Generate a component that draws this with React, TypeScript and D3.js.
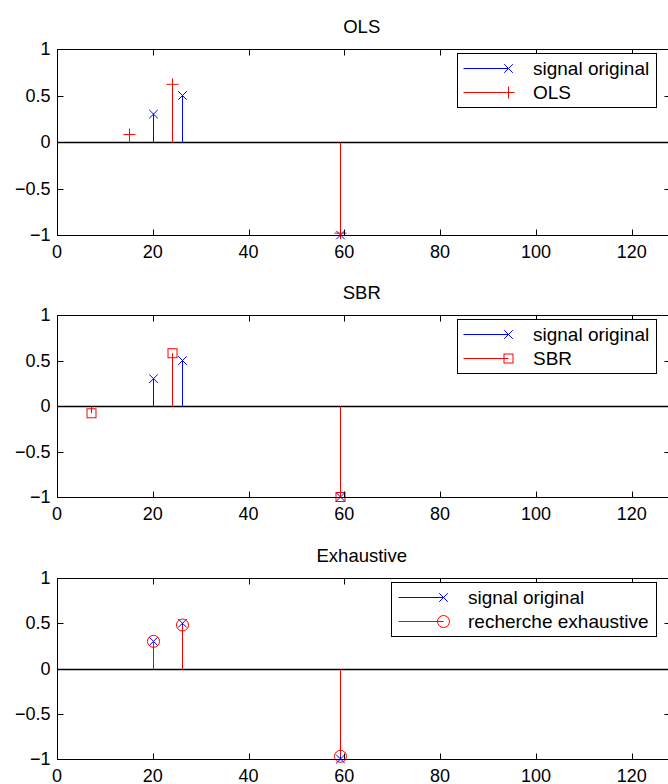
import React from 'react';
import * as d3 from 'd3';

// chart data
const xTicks = [0, 20, 40, 60, 80, 100, 120];
const yTicks = [-1, -0.5, 0, 0.5, 1];

const originalX = [20, 26, 59];
const originalY = [0.3, 0.5, -1];

const olsX = [15, 24, 59];
const olsY = [0.08, 0.62, -0.98];

const sbrX = [7, 24, 59];
const sbrY = [-0.08, 0.58, -1];

const exhX = [20, 26, 59];
const exhY = [0.3, 0.48, -0.97];

const panelTitles = ['OLS', 'SBR', 'Exhaustive'];
const legendLabels = [
  ['signal original', 'OLS'],
  ['signal original', 'SBR'],
  ['signal original', 'recherche exhaustive']
];

const W = 668;
const H = 784;
const FONT = '"Liberation Sans", Arial, Helvetica, sans-serif';
const FS = 18;
const BLUE = '#0000ff';
const RED = '#ff0000';

const panels = [
  { top: 49, height: 186, xs: olsX, ys: olsY, marker: 'plus', legendLeft: 457 },
  { top: 315, height: 182, xs: sbrX, ys: sbrY, marker: 'square', legendLeft: 457 },
  { top: 578, height: 181, xs: exhX, ys: exhY, marker: 'circle', legendLeft: 391 }
];

// snap to pixel centre so 1px lines stay crisp
const px = (v) => Math.round(v) + 0.5;

function Marker({ type, x, y, color }) {
  if (type === 'cross') {
    const h = 4.3;
    return (
      <path d={`M${x - h},${y - h}L${x + h},${y + h}M${x - h},${y + h}L${x + h},${y - h}`} stroke={color} strokeWidth={1} fill="none" />
    );
  }
  if (type === 'plus') {
    const h = 6;
    return <path d={`M${x - h},${y}L${x + h},${y}M${x},${y - h}L${x},${y + h}`} stroke={color} strokeWidth={1} fill="none" />;
  }
  if (type === 'square') {
    const h = 4.5;
    return <rect x={x - h} y={y - h} width={2 * h} height={2 * h} stroke={color} strokeWidth={1} fill="none" />;
  }
  return <circle cx={x} cy={y} r={6} stroke={color} strokeWidth={1} fill="none" />;
}

function Panel({ idx, top, height, xs, ys, marker, legendLeft }) {
  const x = d3.scaleLinear().domain([0, 128]).range([57, 670]);
  const y = d3.scaleLinear().domain([-1, 1]).range([top + height, top]);
  const left = px(x(0));
  const right = px(x(128));
  const tp = px(top);
  const bottom = px(y(-1));
  const y0 = px(y(0));
  const tl = 6;
  const fmt = (v) => (v < 0 ? '\u2212' + Math.abs(v) : String(v));

  const legTop = tp + 4;
  const legRight = 656.5;
  const row1 = legTop + 15;
  const row2 = legTop + 39;
  const textX = idx === 2 ? 468 : 533;
  const markX = idx === 2 ? 443.5 : 508.5;
  const lineX0 = markX - 45;

  return (
    <g>
      <text x={(left + 668) / 2 - 1} y={top - 16} textAnchor="middle" fontSize={FS + 0.5} fontFamily={FONT}>
        {panelTitles[idx]}
      </text>

      {/* baseline */}
      <line x1={left} x2={right} y1={y0} y2={y0} stroke="#000" strokeWidth={1.3} />

      {/* original signal stems */}
      {originalX.map((d, i) => (
        <g key={'o' + i}>
          <line x1={px(x(d))} x2={px(x(d))} y1={y0} y2={y(originalY[i])} stroke={BLUE} strokeWidth={1} />
          <Marker type="cross" x={px(x(d))} y={y(originalY[i])} color={BLUE} />
        </g>
      ))}
      {/* estimate stems */}
      {xs.map((d, i) => (
        <g key={'e' + i}>
          <line x1={px(x(d))} x2={px(x(d))} y1={y0} y2={y(ys[i])} stroke={RED} strokeWidth={1} />
          <Marker type={marker} x={px(x(d))} y={y(ys[i])} color={RED} />
        </g>
      ))}

      {/* axes box */}
      <rect x={left} y={tp} width={right - left} height={bottom - tp} fill="none" stroke="#000" strokeWidth={1} />
      {xTicks.map((t) => (
        <g key={'xt' + t}>
          <line x1={px(x(t))} x2={px(x(t))} y1={bottom} y2={bottom - tl} stroke="#000" />
          <line x1={px(x(t))} x2={px(x(t))} y1={tp} y2={tp + tl} stroke="#000" />
          <text x={x(t)} y={bottom + 22} textAnchor="middle" fontSize={FS} fontFamily={FONT}>
            {t}
          </text>
        </g>
      ))}
      {yTicks.map((t) => (
        <g key={'yt' + t}>
          <line x1={left} x2={left + tl} y1={px(y(t))} y2={px(y(t))} stroke="#000" />
          <line x1={right} x2={right - tl} y1={px(y(t))} y2={px(y(t))} stroke="#000" />
          <text x={left - 7} y={y(t) + 6} textAnchor="end" fontSize={FS} fontFamily={FONT}>
            {fmt(t)}
          </text>
        </g>
      ))}

      {/* legend */}
      <rect x={legendLeft + 0.5} y={legTop} width={legRight - legendLeft - 0.5} height={54} fill="#fff" stroke="#000" strokeWidth={1} />
      <line x1={lineX0} x2={markX} y1={row1} y2={row1} stroke={BLUE} />
      <Marker type="cross" x={markX} y={row1} color={BLUE} />
      <text x={textX} y={row1 + 6} fontSize={FS + 1} fontFamily={FONT}>
        {legendLabels[idx][0]}
      </text>
      <line x1={lineX0} x2={markX} y1={row2} y2={row2} stroke={RED} />
      <Marker type={marker} x={markX} y={row2} color={RED} />
      <text x={textX} y={row2 + 6} fontSize={FS + 1} fontFamily={FONT}>
        {legendLabels[idx][1]}
      </text>
    </g>
  );
}

export default function App() {
  return (
    <div style={{ position: 'absolute', left: 0, top: 0 }}>
      <svg width={W} height={H} style={{ display: 'block', background: '#fff' }}>
        {panels.map((p, i) => (
          <Panel key={i} idx={i} {...p} />
        ))}
      </svg>
    </div>
  );
}
